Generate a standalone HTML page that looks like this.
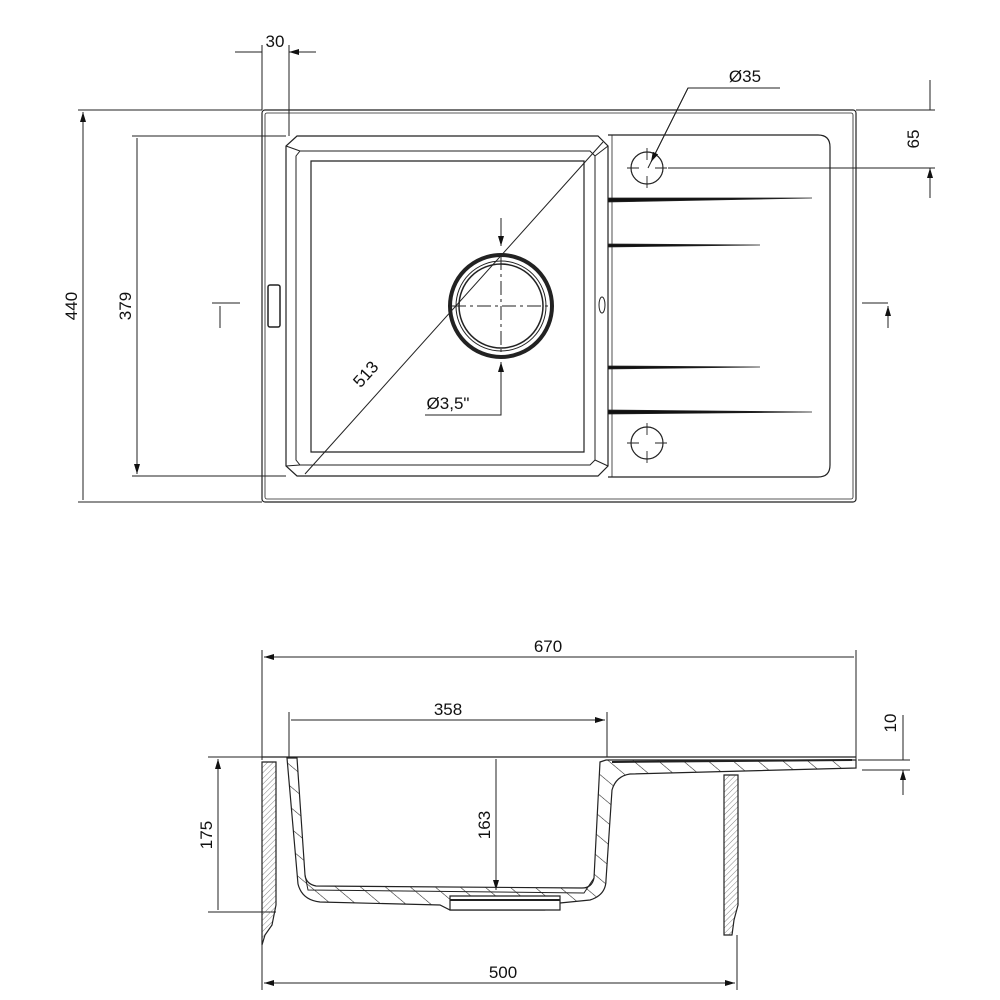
<!DOCTYPE html>
<html><head><meta charset="utf-8"><style>
html,body{margin:0;padding:0;background:#fff}
svg{display:block}
text{font-family:"Liberation Sans",sans-serif;font-size:17px;fill:#111}
</style></head><body>
<svg width="1000" height="1000" viewBox="0 0 1000 1000" xmlns="http://www.w3.org/2000/svg">
<defs>
<marker id="a" viewBox="0 0 10 6" refX="10" refY="3" markerWidth="14" markerHeight="6" markerUnits="userSpaceOnUse" orient="auto-start-reverse"><path d="M0,0L10,3L0,6z" fill="#111"/></marker>
<pattern id="h" width="4" height="4" patternUnits="userSpaceOnUse" patternTransform="rotate(45)"><line x1="0" y1="0" x2="0" y2="4" stroke="#666" stroke-width="0.8"/></pattern>
<pattern id="h2" width="16" height="16" patternUnits="userSpaceOnUse" patternTransform="rotate(-50)"><line x1="0" y1="0" x2="0" y2="16" stroke="#222" stroke-width="1.1"/></pattern>
</defs>
<g fill="none" stroke="#222" stroke-width="1.2">
<rect x="262" y="110" width="594" height="392" rx="3"/>
<rect x="265" y="113" width="588" height="386" rx="2" stroke-width="0.8"/>
<path d="M297,136 L598,136 L608,146 L608,466 L598,476 L297,476 L286,466 L286,146 Z"/>
<path d="M300,151 L590,151 L595,156 L595,460 L590,465 L300,465 L296,460 L296,156 Z" stroke-width="1"/>
<path d="M311,161 L584,161 L584,452 L311,452 Z"/>
<path d="M286,146 L300,151 M608,146 L595,156 M286,466 L300,465 M608,466 L595,460" stroke-width="1"/>
<rect x="268" y="285" width="12" height="42" rx="2" stroke-width="1.5"/>
<path d="M608,135 L818,135 Q830,135 830,147 L830,465 Q830,477 818,477 L608,477" />
<path d="M612,135 L612,477" stroke-width="0.8"/>
<ellipse cx="602" cy="305" rx="3" ry="8" stroke-width="1"/>
<path d="M608,198 L812,198 L608,202Z M608,244 L760,245 L608,247Z M608,366 L760,367 L608,369Z M608,410 L812,412 L608,414Z" fill="#111" stroke-width="0.8"/>
<circle cx="647" cy="168" r="16"/><circle cx="647" cy="443" r="16"/>
<path d="M647,148V160M647,176V188M627,168H639M655,168H667M647,423V435M647,451V463M627,443H639M655,443H667" stroke-width="0.9"/>
<circle cx="501" cy="306" r="51" stroke-width="4"/>
<circle cx="501" cy="306" r="45" stroke-width="1"/>
<circle cx="501" cy="306" r="42" stroke-width="1.5"/>
<path d="M452,306H552M501,256V356" stroke-width="1" stroke-dasharray="14,4,3,4"/>
</g>
<g fill="none" stroke="#222" stroke-width="1">
<path d="M78,110H262M78,502H262M132,136H286M132,476H286"/>
<path d="M83,112V500M137,138V474" marker-start="url(#a)" marker-end="url(#a)"/>
<path d="M262,45V110M289,45V136"/>
<path d="M235,52H262M316,52H289" marker-end="url(#a)"/>
<path d="M305,474L603,142"/>
<path d="M648,168L688,88H780" />
<path d="M688,88L651,162" marker-end="url(#a)"/>
<path d="M856,110H935M668,168H935"/>
<path d="M930,80V110M930,198V168" marker-end="url(#a)"/>
<path d="M501,218V246" marker-end="url(#a)"/>
<path d="M425,415H501V362" marker-end="url(#a)"/>
<path d="M212,303H240M888,303H862"/>
<path d="M220,328V306M888,328V306" marker-end="url(#a)"/>
<path d="M262,650V760M856,650V760M289,712V757M607,712V757"/>
<path d="M264,657H854M291,720H605" marker-start="url(#a)" marker-end="url(#a)"/>
<path d="M208,757H262M208,912H276"/>
<path d="M218,759V910M496,759V890" marker-start="url(#a)" marker-end="url(#a)"/>
<path d="M262,935V990M737,935V990"/>
<path d="M264,983H735" marker-start="url(#a)" marker-end="url(#a)"/>
<path d="M858,760H910M862,770H910"/>
<path d="M903,715V760M903,795V770" marker-end="url(#a)"/>
</g>
<g stroke="#222" stroke-width="1.2">
<path d="M262,757H856" fill="none"/>
<path d="M262,762H276V905L272,925L265,935L262,945Z" fill="url(#h)"/>
<path d="M287,758L298,884Q302,900 320,902L440,905L450,910L545,910L560,903L590,900Q606,895 606,880L612,790Q616,776 630,774L856,768V760L606,760L600,762L594,878Q592,888 582,888L316,886Q306,884 305,875L297,758Z" fill="url(#h2)"/>
<path d="M305,875L308,890L584,893L594,878" fill="none" stroke-width="1"/>
<path d="M450,896H560V910H450Z" fill="#fff"/>
<path d="M450,900H560" fill="none" stroke-width="2"/>
<path d="M612,762L852,760" fill="none" stroke-width="2"/>
<path d="M724,775H738V905L734,920L732,935L724,935Z" fill="url(#h)"/>
</g>
<text x="275" y="47" text-anchor="middle">30</text>
<text x="745" y="82" text-anchor="middle">Ø35</text>
<text transform="translate(919,139) rotate(-90)" text-anchor="middle">65</text>
<text transform="translate(77,306) rotate(-90)" text-anchor="middle">440</text>
<text transform="translate(131,306) rotate(-90)" text-anchor="middle">379</text>
<text transform="translate(370,378) rotate(-48)" text-anchor="middle">513</text>
<text x="448" y="409" text-anchor="middle">Ø3,5"</text>
<text x="548" y="652" text-anchor="middle">670</text>
<text x="448" y="715" text-anchor="middle">358</text>
<text transform="translate(212,835) rotate(-90)" text-anchor="middle">175</text>
<text transform="translate(490,825) rotate(-90)" text-anchor="middle">163</text>
<text transform="translate(896,723) rotate(-90)" text-anchor="middle">10</text>
<text x="503" y="978" text-anchor="middle">500</text>
</svg>
</body></html>
